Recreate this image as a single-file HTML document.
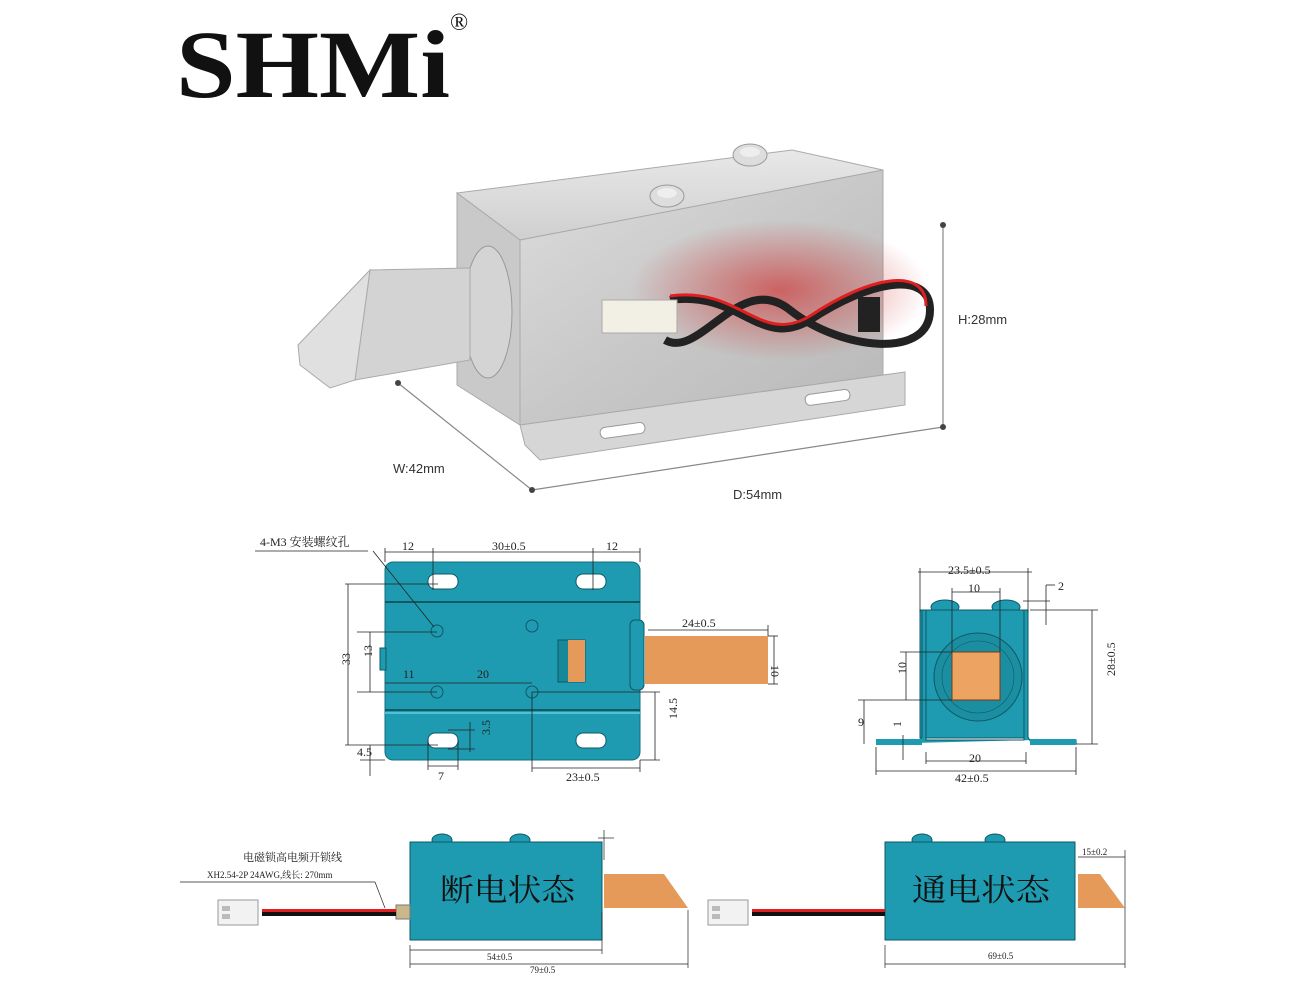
<!DOCTYPE html>
<html><head><meta charset="utf-8"><style>
html,body{margin:0;padding:0;background:#fff;}
svg{display:block;font-family:"Liberation Serif","Noto Serif CJK SC",serif;}
.s{font-family:"Liberation Sans",sans-serif;}
</style></head><body>
<svg width="1309" height="1000" viewBox="0 0 1309 1000" xmlns="http://www.w3.org/2000/svg">
<defs>
<linearGradient id="g1" x1="0" y1="0" x2="1" y2="1"><stop offset="0" stop-color="#dcdcdc"/><stop offset="0.5" stop-color="#c8c8c8"/><stop offset="1" stop-color="#b8b8b8"/></linearGradient>
<linearGradient id="g2" x1="0" y1="0" x2="0" y2="1"><stop offset="0" stop-color="#e8e8e8"/><stop offset="1" stop-color="#cfcfcf"/></linearGradient>
<radialGradient id="red" cx="0.5" cy="0.5" r="0.5"><stop offset="0" stop-color="#d02020" stop-opacity="0.6"/><stop offset="1" stop-color="#d02020" stop-opacity="0"/></radialGradient>
</defs>
<!-- logo -->
<text x="176" y="97" font-size="96" font-weight="bold" fill="#111" textLength="274" lengthAdjust="spacingAndGlyphs">SHMi</text>
<text x="450" y="30" font-size="24" fill="#111">®</text>

<!-- photo -->
<polygon points="457,193 792,150 883,170 520,240" fill="url(#g2)" stroke="#aaa"/>
<polygon points="457,193 520,240 520,425 457,385" fill="#c9c9c9" stroke="#aaa"/>
<polygon points="520,240 883,170 883,375 520,425" fill="url(#g1)" stroke="#aaa"/>
<polygon points="520,425 905,372 905,405 540,460 525,445" fill="#d6d6d6" stroke="#aaa"/>
<rect x="600" y="425" width="45" height="11" rx="5" fill="#fff" stroke="#999" transform="rotate(-8 622 430)"/>
<rect x="805" y="392" width="45" height="11" rx="5" fill="#fff" stroke="#999" transform="rotate(-8 827 397)"/>
<ellipse cx="488" cy="312" rx="24" ry="66" fill="#d4d4d4" stroke="#999"/>
<ellipse cx="750" cy="155" rx="17" ry="11" fill="#ddd" stroke="#999"/><ellipse cx="750" cy="152" rx="10" ry="5" fill="#eee"/>
<ellipse cx="667" cy="196" rx="17" ry="11" fill="#ddd" stroke="#999"/><ellipse cx="667" cy="193" rx="10" ry="5" fill="#eee"/>
<polygon points="370,270 470,268 470,360 355,380" fill="#d3d3d3" stroke="#aaa"/>
<polygon points="298,345 370,270 355,380 330,388 300,365" fill="#e0e0e0" stroke="#aaa"/>
<ellipse cx="780" cy="290" rx="150" ry="70" fill="url(#red)"/>
<path d="M670,300 C740,290 760,350 810,320 C870,280 930,270 930,310 C930,360 840,350 790,310 C740,270 700,360 665,340" fill="none" stroke="#222" stroke-width="8"/>
<path d="M670,296 C740,286 760,346 810,316 C870,276 926,266 926,306" fill="none" stroke="#e02020" stroke-width="3"/>
<rect x="602" y="300" width="75" height="33" fill="#f2efe4" stroke="#aaa"/>
<rect x="858" y="297" width="22" height="35" fill="#222"/>
<g stroke="#888" stroke-width="1.2"><line x1="398" y1="383" x2="532" y2="490"/><line x1="532" y1="490" x2="943" y2="427"/><line x1="943" y1="225" x2="943" y2="427"/></g>
<g fill="#444"><circle cx="398" cy="383" r="3"/><circle cx="532" cy="490" r="3"/><circle cx="943" cy="427" r="3"/><circle cx="943" cy="225" r="3"/></g>
<g class="s" font-size="13" fill="#333"><text x="393" y="473">W:42mm</text><text x="733" y="499">D:54mm</text><text x="958" y="324">H:28mm</text></g>

<!-- middle left drawing -->
<rect x="385" y="562" width="255" height="198" rx="8" fill="#1e9bb0" stroke="#146e7e"/>
<line x1="385" y1="602" x2="640" y2="602" stroke="#0e5966" stroke-width="2"/>
<line x1="385" y1="710" x2="640" y2="710" stroke="#0e5966" stroke-width="2"/>
<line x1="385" y1="713" x2="640" y2="713" stroke="#5fd0e0" stroke-width="1.5"/>
<g fill="#fff" stroke="#0e5966"><rect x="428" y="574" width="30" height="15" rx="7"/><rect x="576" y="574" width="30" height="15" rx="7"/><rect x="428" y="733" width="30" height="15" rx="7"/><rect x="576" y="733" width="30" height="15" rx="7"/></g>
<g fill="none" stroke="#0e5966"><circle cx="437" cy="631" r="6"/><circle cx="532" cy="626" r="6"/><circle cx="437" cy="692" r="6"/><circle cx="532" cy="692" r="6"/></g>
<rect x="558" y="640" width="27" height="42" fill="#178898" stroke="#0e5966"/>
<rect x="568" y="640" width="17" height="42" fill="#e59a5a"/>
<rect x="630" y="620" width="14" height="70" rx="5" fill="#1e9bb0" stroke="#0e5966"/>
<rect x="645" y="636" width="123" height="48" fill="#e59a5a"/>
<rect x="380" y="648" width="6" height="22" fill="#1e9bb0" stroke="#0e5966"/>
<g stroke="#222" stroke-width="0.8" fill="none">
<line x1="255" y1="551" x2="368" y2="551"/><line x1="373" y1="551" x2="434" y2="627"/>
<line x1="385" y1="552" x2="640" y2="552"/><line x1="385" y1="548" x2="385" y2="562"/><line x1="433" y1="548" x2="433" y2="590"/><line x1="593" y1="548" x2="593" y2="590"/><line x1="640" y1="548" x2="640" y2="562"/>
<line x1="345" y1="584" x2="438" y2="584"/><line x1="345" y1="745" x2="438" y2="745"/><line x1="348" y1="584" x2="348" y2="745"/>
<line x1="357" y1="632" x2="437" y2="632"/><line x1="357" y1="692" x2="437" y2="692"/><line x1="370" y1="632" x2="370" y2="692"/>
<line x1="385" y1="683" x2="532" y2="683"/>
<line x1="370" y1="745" x2="370" y2="776"/><line x1="360" y1="760" x2="385" y2="760"/>
<line x1="428" y1="740" x2="428" y2="770"/><line x1="458" y1="740" x2="458" y2="770"/><line x1="428" y1="766" x2="458" y2="766"/>
<line x1="448" y1="730" x2="475" y2="730"/><line x1="448" y1="749" x2="475" y2="749"/><line x1="470" y1="722" x2="470" y2="752"/>
<line x1="532" y1="692" x2="532" y2="772"/><line x1="532" y1="768" x2="640" y2="768"/><line x1="640" y1="760" x2="640" y2="772"/>
<line x1="532" y1="692" x2="660" y2="692"/><line x1="640" y1="760" x2="660" y2="760"/><line x1="655" y1="692" x2="655" y2="760"/>
<line x1="648" y1="630" x2="768" y2="630"/><line x1="768" y1="625" x2="768" y2="636"/>
<line x1="768" y1="636" x2="778" y2="636"/><line x1="768" y1="684" x2="778" y2="684"/><line x1="774" y1="636" x2="774" y2="684"/>
</g>
<g font-size="12" fill="#222">
<text x="260" y="546">4-M3 安装螺纹孔</text><text x="402" y="550">12</text><text x="492" y="550">30±0.5</text><text x="606" y="550">12</text>
<text x="345" y="670" transform="rotate(-90 345 665)">33</text><text x="367" y="662" transform="rotate(-90 367 657)">13</text>
<text x="403" y="678">11</text><text x="477" y="678">20</text><text x="357" y="756">4.5</text><text x="438" y="780">7</text>
<text x="487" y="748" transform="rotate(-90 482 740)">3.5</text><text x="566" y="781">23±0.5</text><text x="675" y="735" transform="rotate(-90 668 726)">14.5</text>
<text x="682" y="627">24±0.5</text><text x="782" y="666" transform="rotate(90 777 660)">10</text>
</g>

<!-- middle right drawing -->
<ellipse cx="945" cy="607" rx="14" ry="7" fill="#1e9bb0" stroke="#0e5966"/><ellipse cx="1006" cy="607" rx="14" ry="7" fill="#1e9bb0" stroke="#0e5966"/>
<rect x="920" y="610" width="108" height="128" fill="#1e9bb0" stroke="#0e5966"/>
<path d="M876,744 L918,744 L922,737 L922,610 L926,610 L926,740 L1024,740 L1024,610 L1028,610 L1028,737 L1032,744 L1076,744 L1076,740 L1034,740" fill="#1e9bb0" stroke="#0e5966"/>
<rect x="876" y="739" width="46" height="6" fill="#1e9bb0"/><rect x="1030" y="739" width="46" height="6" fill="#1e9bb0"/>
<circle cx="978" cy="677" r="44" fill="#1b8ea2" stroke="#0e5966"/><circle cx="978" cy="677" r="36" fill="none" stroke="#0e5966" stroke-width="0.6"/>
<rect x="952" y="652" width="48" height="48" fill="#eda362" stroke="#7a3a10"/>
<g stroke="#222" stroke-width="0.8" fill="none">
<line x1="918" y1="572" x2="1032" y2="572"/><line x1="920" y1="568" x2="920" y2="612"/><line x1="1028" y1="568" x2="1028" y2="612"/>
<line x1="952" y1="592" x2="1000" y2="592"/><line x1="952" y1="588" x2="952" y2="652"/><line x1="1000" y1="588" x2="1000" y2="652"/>
<line x1="1030" y1="610" x2="1098" y2="610"/><line x1="1076" y1="744" x2="1098" y2="744"/><line x1="1092" y1="610" x2="1092" y2="744"/>
<line x1="1023" y1="601" x2="1050" y2="601"/><line x1="1046" y1="585" x2="1046" y2="625"/><line x1="1046" y1="585" x2="1055" y2="585"/>
<line x1="900" y1="652" x2="952" y2="652"/><line x1="858" y1="700" x2="952" y2="700"/><line x1="906" y1="652" x2="906" y2="700"/>
<line x1="864" y1="700" x2="864" y2="744"/><line x1="903" y1="735" x2="903" y2="760"/>
<line x1="926" y1="752" x2="926" y2="764"/><line x1="926" y1="761" x2="1026" y2="761"/><line x1="1026" y1="752" x2="1026" y2="764"/>
<line x1="876" y1="747" x2="876" y2="775"/><line x1="1076" y1="747" x2="1076" y2="775"/><line x1="876" y1="771" x2="1076" y2="771"/>
</g>
<g font-size="12" fill="#222">
<text x="948" y="574">23.5±0.5</text><text x="968" y="592">10</text><text x="1058" y="590">2</text>
<text x="1098" y="695" transform="rotate(-90 1097 677)">28±0.5</text>
<text x="903" y="683" transform="rotate(-90 900 677)">10</text><text x="858" y="726">9</text><text x="900" y="734" transform="rotate(-90 897 730)">1</text>
<text x="969" y="762">20</text><text x="955" y="782">42±0.5</text>
</g>

<!-- bottom left -->
<ellipse cx="442" cy="840" rx="10" ry="6" fill="#1e9bb0" stroke="#0e5966"/><ellipse cx="520" cy="840" rx="10" ry="6" fill="#1e9bb0" stroke="#0e5966"/>
<rect x="410" y="842" width="192" height="98" fill="#1e9bb0" stroke="#0e5966"/>
<polygon points="604,874 664,874 688,908 604,908" fill="#e59a5a"/>
<rect x="396" y="905" width="14" height="14" fill="#c9b98a" stroke="#777"/>
<rect x="262" y="909" width="134" height="3" fill="#e02020"/><rect x="262" y="912" width="134" height="4" fill="#111"/>
<rect x="218" y="900" width="40" height="25" fill="#f2f2f2" stroke="#999"/><rect x="222" y="906" width="8" height="5" fill="#bbb"/><rect x="222" y="914" width="8" height="5" fill="#bbb"/>
<text x="440" y="901" font-size="31" fill="#111" font-family="'Noto Serif CJK SC',serif" textLength="135" lengthAdjust="spacingAndGlyphs">断电状态</text>
<g stroke="#222" stroke-width="0.7" fill="none">
<line x1="180" y1="882" x2="375" y2="882"/><line x1="375" y1="882" x2="385" y2="908"/>
<line x1="410" y1="945" x2="410" y2="968"/><line x1="410" y1="950" x2="602" y2="950"/><line x1="602" y1="912" x2="602" y2="954"/>
<line x1="410" y1="964" x2="688" y2="964"/><line x1="688" y1="910" x2="688" y2="968"/>
<line x1="604" y1="830" x2="604" y2="860"/><line x1="598" y1="838" x2="614" y2="838"/>
</g>
<g font-size="11" fill="#222"><text x="243" y="861">电磁锁高电频开锁线</text><text x="207" y="878" font-size="9">XH2.54-2P 24AWG,线长: 270mm</text>
<text x="487" y="960" font-size="9">54±0.5</text><text x="530" y="973" font-size="9">79±0.5</text></g>

<!-- bottom right -->
<ellipse cx="922" cy="840" rx="10" ry="6" fill="#1e9bb0" stroke="#0e5966"/><ellipse cx="995" cy="840" rx="10" ry="6" fill="#1e9bb0" stroke="#0e5966"/>
<rect x="885" y="842" width="190" height="98" fill="#1e9bb0" stroke="#0e5966"/>
<polygon points="1078,874 1100,874 1125,908 1078,908" fill="#e59a5a"/>
<rect x="752" y="909" width="133" height="3" fill="#e02020"/><rect x="752" y="912" width="133" height="4" fill="#111"/>
<rect x="708" y="900" width="40" height="25" fill="#f2f2f2" stroke="#999"/><rect x="712" y="906" width="8" height="5" fill="#bbb"/><rect x="712" y="914" width="8" height="5" fill="#bbb"/>
<text x="912" y="901" font-size="31" fill="#111" font-family="'Noto Serif CJK SC',serif" textLength="138" lengthAdjust="spacingAndGlyphs">通电状态</text>
<g stroke="#222" stroke-width="0.7" fill="none">
<line x1="1078" y1="857" x2="1125" y2="857"/><line x1="1125" y1="850" x2="1125" y2="968"/>
<line x1="885" y1="945" x2="885" y2="968"/><line x1="885" y1="964" x2="1125" y2="964"/>
</g>
<g font-size="9" fill="#222"><text x="1082" y="855">15±0.2</text><text x="988" y="959">69±0.5</text></g>
</svg>
</body></html>
